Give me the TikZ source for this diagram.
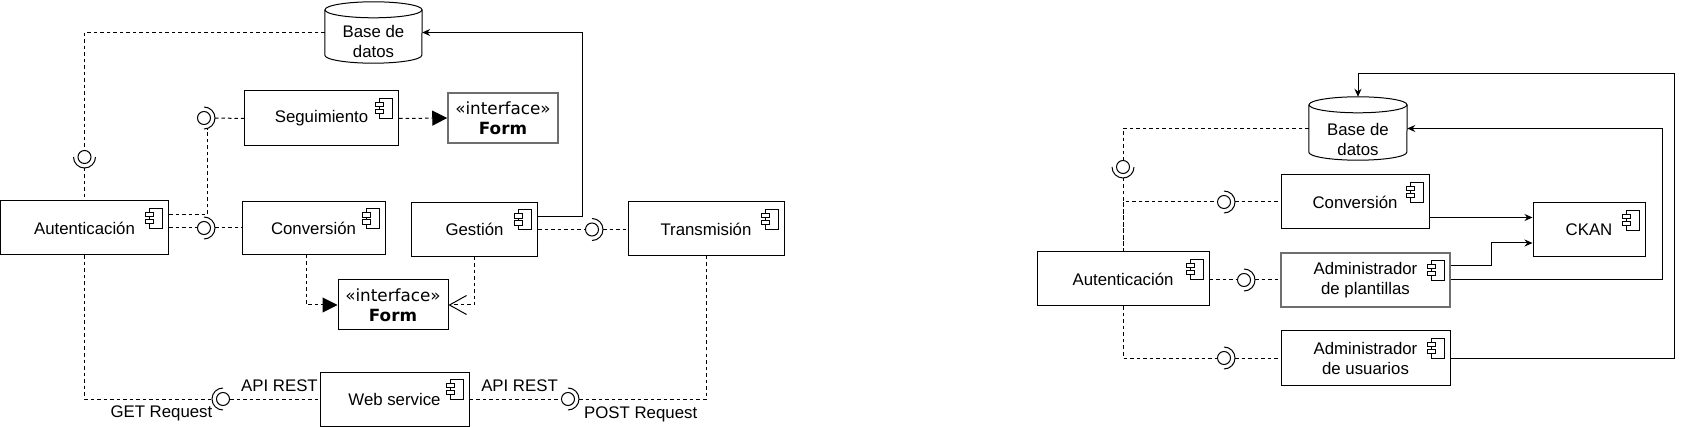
\documentclass[tikz,border=0pt]{standalone}
\usepackage{fontspec}
\setmainfont{Liberation Sans}
\newfontfamily\ifacefont{DejaVu Sans}
\usepackage{tikz}
\usetikzlibrary{positioning,calc,arrows.meta}
\definecolor{umlLine}{RGB}{0, 0, 0}
\definecolor{umlGray}{RGB}{110, 110, 110}

\newcommand{\umlfont}{\fontsize{16.8}{20}\selectfont}
% database drawn round an empty node
\newcommand{\dbcyl}[2]{%
  \draw[line width=1pt] ($(#1.north west)+(0,8)$) -- ($(#1.south west)+(0,-8)$)
    arc[start angle=180, end angle=360, x radius=#2pt, y radius=8pt] -- ($(#1.north east)+(0,8)$);
  \draw[line width=1pt] ($(#1.north)+(0,8)$) ellipse[x radius=#2pt, y radius=8pt];
}
% half ring of a required interface
\newcommand{\sockright}[1]{\draw[line width=1pt] ([yshift=11pt]#1.center) arc[start angle=90, end angle=-90, radius=11pt];}
\newcommand{\sockleft}[1]{\draw[line width=1pt] ([yshift=11pt]#1.center) arc[start angle=90, end angle=270, radius=11pt];}
\newcommand{\sockdown}[1]{\draw[line width=1pt] ([xshift=-11pt]#1.center) arc[start angle=180, end angle=360, radius=11pt];}

\tikzset{
  comp/.style={draw=umlLine, line width=1pt, align=center, font=\umlfont, inner sep=0pt,
    path picture={
      \coordinate (icon) at ([xshift=-6pt,yshift=-7pt]path picture bounding box.north east);
      \draw[umlLine, line width=0.8pt] (icon) rectangle ++(-13pt,-20pt);
      \draw[umlLine, line width=0.8pt, fill=white] ([xshift=-17pt,yshift=-4pt]icon) rectangle ++(8pt,-4.5pt);
      \draw[umlLine, line width=0.8pt, fill=white] ([xshift=-17pt,yshift=-11pt]icon) rectangle ++(8pt,-4.5pt);
    }},
  iface/.style={draw=umlLine, line width=1pt, align=center, inner sep=0pt,
    font=\ifacefont\fontsize{16.8}{20}\selectfont},
  dbbox/.style={inner sep=0pt},
  ball/.style={circle, draw=umlLine, line width=1pt, minimum size=13pt, inner sep=0pt},
  dep/.style={line width=1pt, dash pattern=on 3.5pt off 3pt},
  flow/.style={line width=1pt, -{Stealth[length=8pt,width=7pt]}},
  realize/.style={-{Triangle[length=15pt,width=15pt]}},
  uses/.style={-{Straight Barb[length=17pt,width=19pt]}},
  lbl/.style={font=\umlfont, inner sep=0pt},
}

\begin{document}
\begin{tikzpicture}[x=1pt, y=-1pt]
    \useasboundingbox (0,0) rectangle (1683,427);

    % ---------- left diagram ----------
    % Database
    \node[dbbox, minimum width=97pt, minimum height=61pt] (bdL) at (373.5,32.5) {};
    \dbcyl{bdL}{48.5}
    \node[lbl, align=center] (bdLtxt) at ($(bdL)+(0,9)$) {Base de\\datos};
    % Components
    \node[comp, minimum width=168pt, minimum height=54pt] (autL) at (84.5,228) {Autenticación};
    \node[comp, minimum width=154pt, minimum height=55pt] (segL) at (321.5,118.5) {Seguimiento};
    \node[comp, minimum width=143pt, minimum height=53pt] (convL) at (313.5,228) {Conversión};
    \node[comp, minimum width=126pt, minimum height=54pt] (gesL) at (474.5,229.5) {Gestión};
    \node[comp, minimum width=156pt, minimum height=54pt] (traL) at (706,229) {Transmisión};
    \node[comp, minimum width=149pt, minimum height=54pt] (wsL) at (394.5,399) {Web service};
    % Interfaces
    \node[iface, draw=umlGray, line width=1.5pt, minimum width=110pt, minimum height=50pt] (form1) at (503,118) {«interface»\\\textbf{Form}};
    \node[iface, minimum width=110pt, minimum height=50pt] (form2) at (393,305) {«interface»\\\textbf{Form}};
    % Lollipops
    \node[ball] (ifBDL) at (84.5,157) {};
    \sockdown{ifBDL}
    \node[ball] (ifSeg) at (204,118) {};
    \sockright{ifSeg}
    \node[ball] (ifConv) at (204,228) {};
    \sockright{ifConv}
    \node[ball] (ifTra) at (592,229.5) {};
    \sockright{ifTra}
    \node[ball] (ifGet) at (223,399) {};
    \sockleft{ifGet}
    \node[ball] (ifPost) at (568,399) {};
    \sockright{ifPost}

    % Connectors
    \draw[dep] (bdL.west) -| (ifBDL.north);
    \draw[dep] ([yshift=-11pt]ifBDL.center) -- (autL.north);
    \draw[dep] ([yshift=13pt]autL.east) -| ([xshift=3pt,yshift=-10.6pt]ifSeg.center);
    \draw[dep] ([xshift=11pt]ifSeg.center) -- (segL.west);
    \draw[dep, realize] (segL.east) -- (form1.west);
    \draw[dep] (autL.east) -- (ifConv.west);
    \draw[dep] ([xshift=11pt]ifConv.center) -- (convL.west);
    \draw[dep, realize] ([xshift=-7.5pt]convL.south) |- (form2.west);
    \draw[dep, uses] (gesL.south) |- (form2.east);
    \draw[dep] (gesL.east) -- (ifTra.west);
    \draw[dep] ([xshift=11pt]ifTra.center) -- (ifTra -| traL.west);
    \draw[flow] ([yshift=12.5pt]gesL.east) -| ($(bdL.east)+(160,0)$) -- (bdL.east);
    \draw[dep] (autL.south) |- ([xshift=-11pt]ifGet.center);
    \draw[dep] (ifGet.east) -- (wsL.west);
    \draw[dep] (wsL.east) -- (ifPost.west);
    \draw[dep] ([xshift=11pt]ifPost.center) -| (traL.south);
    % Labels
    \node[lbl, anchor=base west] (apiGet) at ($(ifGet)+(18,-8)$) {API REST};
    \node[lbl, anchor=base east] (getReq) at ($(ifGet)+(-10.5,18)$) {GET Request};
    \node[lbl, anchor=base east] (apiPost) at ($(ifPost)+(-10,-8)$) {API REST};
    \node[lbl, anchor=base west] (postReq) at ($(ifPost)+(16,19)$) {POST Request};

    % ---------- right diagram ----------
    % Database
    \node[dbbox, minimum width=98pt, minimum height=63pt] (bdR) at (1358,128.5) {};
    \dbcyl{bdR}{49}
    \node[lbl, align=center] (bdRtxt) at ($(bdR)+(0,10.5)$) {Base de\\datos};
    % Components
    \node[comp, minimum width=172pt, minimum height=54pt] (autR) at (1123,279) {Autenticación};
    \node[comp, minimum width=148pt, minimum height=54pt] (convR) at (1355,202) {Conversión};
    \node[comp, minimum width=112pt, minimum height=54pt] (ckan) at (1589,230) {CKAN};
    \node[comp, draw=umlGray, line width=1.5pt, minimum width=169pt, minimum height=54pt] (plant) at (1365.5,280) {Administrador\\de plantillas};
    \node[comp, minimum width=169pt, minimum height=54pt] (usr) at (1365.5,358) {Administrador\\de usuarios};
    % Lollipops
    \node[ball] (ifBDR) at (1123,167) {};
    \sockdown{ifBDR}
    \node[ball] (ifConvR) at (1224,202) {};
    \sockright{ifConvR}
    \node[ball] (ifPlant) at (1244,280) {};
    \sockright{ifPlant}
    \node[ball] (ifUsr) at (1224,358) {};
    \sockright{ifUsr}

    % Connectors
    \draw[dep] (bdR.west) -| (ifBDR.north);
    \draw[dep] ([yshift=-11pt]ifBDR.center) -- (autR.north);
    \draw[dep] (autR.north) |- (ifConvR.west);
    \draw[dep] ([xshift=11pt]ifConvR.center) -- (convR.west);
    \draw[dep] (autR.east |- ifPlant) -- (ifPlant.west);
    \draw[dep] ([xshift=11pt]ifPlant.center) -- (plant.west);
    \draw[dep] (autR.south) |- (ifUsr.west);
    \draw[dep] ([xshift=11pt]ifUsr.center) -- (usr.west);
    \coordinate (convOut) at ([yshift=-15.5pt]convR.east);
    \draw[flow] (convOut) -- (convOut -| ckan.west);
    \draw[flow] ([yshift=14pt]plant.east) -- ++(40.5,0) |- ([yshift=-13pt]ckan.west);
    \draw[flow] (plant.east) -| ($(bdR.east)+(255,0)$) -- (bdR.east);
    \draw[flow] (usr.east) -| ($(bdR.north)+(316.5,-23)$) -| (bdR.north);
\end{tikzpicture}
\end{document}
